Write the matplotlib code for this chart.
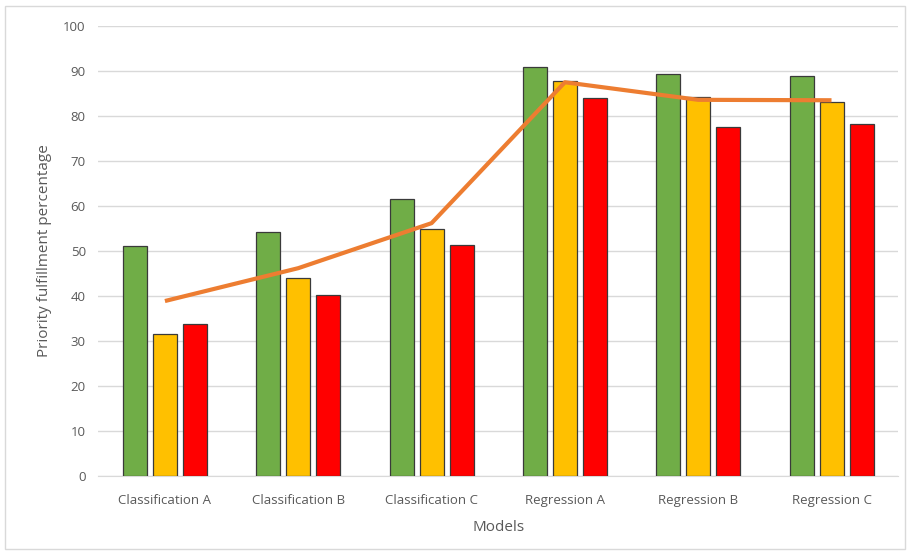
import numpy as np
import matplotlib.pyplot as plt
from matplotlib.patches import Rectangle

models = ["Classification A", "Classification B", "Classification C",
          "Regression A", "Regression B", "Regression C"]
green_vals = [51.2, 54.3, 61.6, 90.9, 89.3, 88.8]
yellow_vals = [31.6, 44.0, 55.0, 87.8, 84.3, 83.2]
red_vals = [33.7, 40.2, 51.3, 83.9, 77.5, 78.3]
line_vals = [38.9, 46.2, 56.2, 87.5, 83.6, 83.5]

plt.rcParams['font.family'] = ['Open Sans', 'DejaVu Sans']

fig = plt.figure(figsize=(9.1, 5.53), dpi=100)
ax = fig.add_axes([0.108, 0.139, 0.879, 0.814])

# light frame around the whole chart area
fig.patches.append(Rectangle((0.006, 0.008), 0.988, 0.982, transform=fig.transFigure,
                             fill=False, edgecolor="#d9d9d9", linewidth=1))

x = np.arange(len(models))
w = 0.18
off = 0.225
ax.bar(x - off, green_vals, w, color="#70ad47", edgecolor="#3a3a3a", linewidth=0.9, zorder=3)
ax.bar(x, yellow_vals, w, color="#ffc000", edgecolor="#3a3a3a", linewidth=0.9, zorder=3)
ax.bar(x + off, red_vals, w, color="#ff0000", edgecolor="#3a3a3a", linewidth=0.9, zorder=3)
ax.plot(x, line_vals, color="#ed7d31", linewidth=3, zorder=4, solid_capstyle="butt")

ax.set_xlim(-0.5, len(models) - 0.5)
ax.set_ylim(0, 100)
ax.set_yticks(range(0, 101, 10))
ax.set_xticks(x)
ax.set_xticklabels(models)
ax.grid(axis="y", color="#d9d9d9", linewidth=1, zorder=0)
ax.tick_params(axis="y", length=0, labelsize=9.5, colors="#595959", pad=9)
ax.tick_params(axis="x", length=0, labelsize=9.5, colors="#595959", pad=13)
for s in ["top", "right", "left"]:
    ax.spines[s].set_visible(False)
ax.spines["bottom"].set_color("#d9d9d9")

ax.set_xlabel("Models", fontsize=11, color="#595959", labelpad=9)
ax.set_ylabel("Priority fulfillment percentage", fontsize=11, color="#595959", labelpad=8)

plt.savefig("out.png", dpi=100)
